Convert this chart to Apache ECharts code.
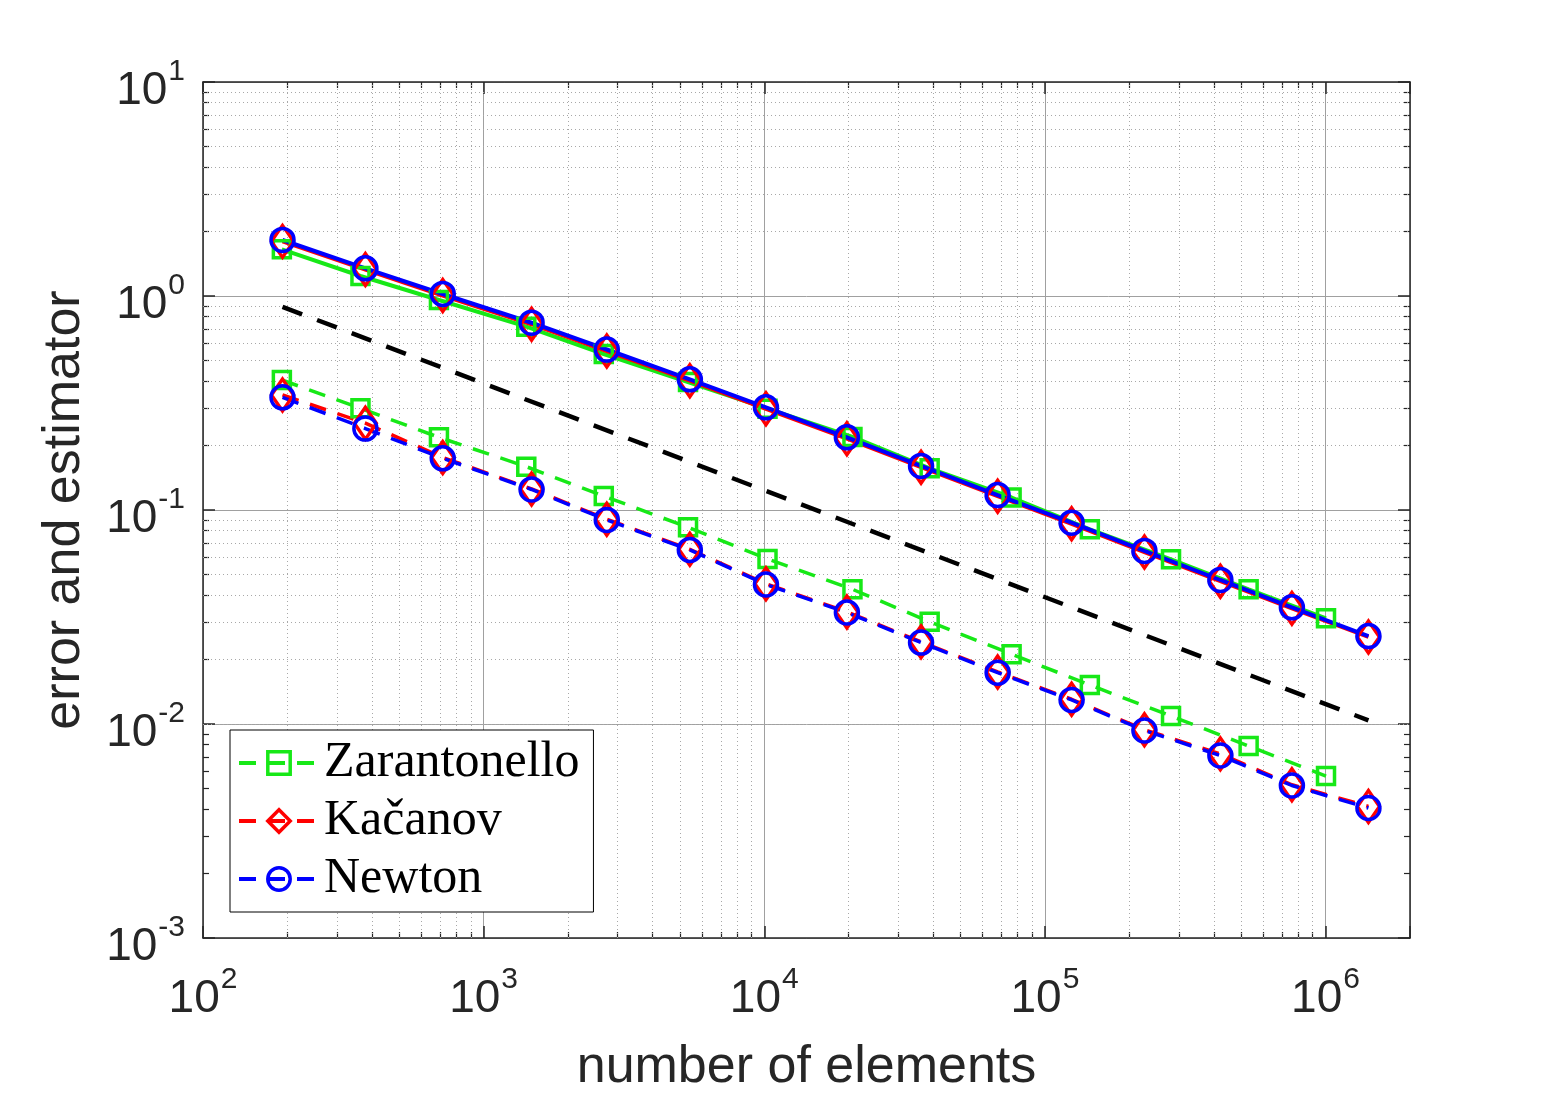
<!DOCTYPE html>
<html>
<head>
<meta charset="utf-8">
<title>error and estimator</title>
<script src="https://cdn.jsdelivr.net/npm/echarts@6/dist/echarts.min.js"></script>
<style>
	html, body { margin: 0; padding: 0; background: #fff; }
	#chart { width: 1560px; height: 1097px; }
</style>
</head>
<body>
<div id="chart"></div>
<script>
// number of elements
var nZar = [191, 364, 693, 1419, 2680, 5350, 10270, 20620, 38850, 76100, 144600, 281500, 532100, 1004000];
var nKac = [192, 379, 715, 1482, 2747, 5430, 10140, 19700, 36200, 67870, 124500, 226300, 422000, 758900, 1422000];
var nNew = [192, 379, 715, 1482, 2747, 5430, 10140, 19700, 36200, 67870, 124500, 226300, 422000, 758900, 1422000];

// estimator (solid) and error (dashed)
var zarEst = [1.652, 1.240, 0.958, 0.7186, 0.5358, 0.3960, 0.2974, 0.2194, 0.1566, 0.1144, 0.08124, 0.05884, 0.04260, 0.03118];
var zarErr = [0.405, 0.2987, 0.2186, 0.1594, 0.1162, 0.0830, 0.05902, 0.04260, 0.03006, 0.02120, 0.01521, 0.01090, 0.00789, 0.005714];
var kacEst = [1.80, 1.33, 1.005, 0.738, 0.553, 0.402, 0.297, 0.2155, 0.1585, 0.1160, 0.0862, 0.0636, 0.0465, 0.0347, 0.0255];
var kacErr = [0.345, 0.2545, 0.1760, 0.1255, 0.0905, 0.0655, 0.0452, 0.0334, 0.0242, 0.0175, 0.01305, 0.00940, 0.00725, 0.00520, 0.00412];
var newEst = [1.827, 1.347, 1.022, 0.750, 0.5623, 0.408, 0.3019, 0.2186, 0.1606, 0.1175, 0.08723, 0.06435, 0.04709, 0.03510, 0.02577];
var newErr = [0.3363, 0.2403, 0.1744, 0.1247, 0.08981, 0.06505, 0.04486, 0.03319, 0.02403, 0.01737, 0.01295, 0.009324, 0.007125, 0.005160, 0.004050];

// reference slope N^(-1/2)
var refN = [192, 1422000];
var refVal = [0.89, 0.0104];

// decades for the axes
var xDecades = [1e2, 1e3, 1e4, 1e5, 1e6];
var yDecades = [1e-3, 1e-2, 1e-1, 1e0];

var txtColor = '#262626';
var sansFont = 'Liberation Sans, Arial, sans-serif';
var serifFont = 'Liberation Serif, Times New Roman, serif';

function minorValues(decades) {
	var out = [];
	for (var i = 0; i < decades.length; i++) {
		for (var k = 2; k <= 9; k++) {
			out.push(+(k * decades[i]).toPrecision(6));
		}
	}
	return out;
}
var xMinor = minorValues(xDecades.slice(0, 4));
var yMinor = minorValues(yDecades);

function pairs(xs, ys) {
	var out = [];
	for (var i = 0; i < ys.length; i++) {
		out.push([xs[i], ys[i]]);
	}
	return out;
}

//10^n labels
function powLabel(v) {
	var lg = Math.log(v) / Math.LN10;
	var e = Math.round(lg);
	if (Math.abs(lg - e) > 1e-6) return '';
	return '{b|10}{s|' + e + '}';
}
var richLabel = {
	b: { fontSize: 46, lineHeight: 68, fontFamily: sansFont, color: txtColor },
	s: { fontSize: 30, lineHeight: 30, padding: [0, 0, 38, 1], fontFamily: sansFont, color: txtColor }
};

var axisLineStyle = { color: txtColor, width: 1.5 };

function frameAxis(kind, pos, extra) {
	var ax = {
		type: 'log',
		logBase: 10,
		position: pos,
		axisLine: { show: true, onZero: false, lineStyle: axisLineStyle },
		axisTick: { show: true, inside: true, length: 12, lineStyle: axisLineStyle },
		axisLabel: { show: false },
		splitLine: { show: false },
		minorTick: { show: false },
		minorSplitLine: { show: false }
	};
	if (kind == 'x') {
		ax.min = 100;
		ax.max = 2e6;
	} else {
		ax.min = 1e-3;
		ax.max = 10;
	}
	for (var k in extra) ax[k] = extra[k];
	return ax;
}

function minorAxis(kind, pos, vals) {
	return frameAxis(kind, pos, {
		axisLine: { show: false },
		axisTick: { show: true, inside: true, length: 6, customValues: vals, lineStyle: { color: txtColor, width: 1.2 } }
	});
}

var xAxes = [
	frameAxis('x', 'bottom', {
		axisLabel: { show: true, margin: 27, formatter: powLabel, rich: richLabel },
		splitLine: { show: true, lineStyle: { color: '#a0a0a0', width: 1 } },
		name: 'number of elements',
		nameLocation: 'middle',
		nameGap: 104,
		nameTextStyle: { fontFamily: sansFont, fontSize: 52, color: txtColor }
	}),
	frameAxis('x', 'top', {}),
	minorAxis('x', 'bottom', xMinor),
	minorAxis('x', 'top', xMinor)
];

var yAxes = [
	frameAxis('y', 'left', {
		axisLabel: { show: true, margin: 18, formatter: powLabel, rich: richLabel, padding: [18, 0, 0, 0] },
		splitLine: { show: true, lineStyle: { color: '#a0a0a0', width: 1 } },
		name: 'error and estimator',
		nameLocation: 'middle',
		nameRotate: 90,
		nameGap: 112,
		nameTextStyle: { fontFamily: sansFont, fontSize: 52, color: txtColor }
	}),
	frameAxis('y', 'right', {}),
	minorAxis('y', 'left', yMinor),
	minorAxis('y', 'right', yMinor)
];

function lineSeries(name, xs, ys, color, symbol, size, dashed) {
	return {
		type: 'line',
		name: name,
		data: pairs(xs, ys),
		symbol: symbol,
		symbolSize: size,
		showAllSymbol: true,
		silent: true,
		lineStyle: { color: color, width: dashed ? 3.5 : 4, type: dashed ? [17, 12] : 'solid' },
		itemStyle: { color: 'rgba(255,255,255,0)', borderColor: color, borderWidth: 3.5 },
		emphasis: { disabled: true }
	};
}

var green = '#17e817';
var red = '#ff0000';
var blue = '#0000ff';

// minor grid (dotted)
var minorGrid = [];
for (var i = 0; i < xMinor.length; i++) minorGrid.push({ xAxis: xMinor[i] });
for (var j = 0; j < yMinor.length; j++) minorGrid.push({ yAxis: yMinor[j] });

var refSeries = {
	type: 'line',
	name: 'ref',
	data: pairs(refN, refVal),
	symbol: 'none',
	silent: true,
	lineStyle: { color: '#000', width: 4.5, type: [21, 16] },
	markLine: {
		silent: true,
		z: 1,
		symbol: ['none', 'none'],
		label: { show: false },
		lineStyle: { color: '#a8a8a8', width: 1, type: [1, 3] },
		emphasis: { disabled: true },
		animation: false,
		data: minorGrid
	}
};

var option = {
	animation: false,
	backgroundColor: '#fff',
	grid: { left: 203, top: 82, width: 1207, height: 856, containLabel: false, outerBoundsMode: 'none' },
	xAxis: xAxes,
	yAxis: yAxes,
	legend: {
		data: ['Zarantonello', 'Kačanov', 'Newton'],
		orient: 'vertical',
		left: 230,
		top: 730,
		padding: [8, 14, 8, 7],
		itemWidth: 80,
		itemHeight: 28,
		itemGap: 8,
		backgroundColor: '#fff',
		borderColor: '#000',
		borderWidth: 1,
		borderRadius: 0,
		selectedMode: false,
		lineStyle: { width: 4 },
		itemStyle: { borderWidth: 3.5 },
		textStyle: { fontFamily: serifFont, fontSize: 50, color: '#000' }
	},
	series: [
		lineSeries('Zarantonello est', nZar, zarEst, green, 'rect', 17, false),
		lineSeries('Zarantonello', nZar, zarErr, green, 'rect', 17, true),
		lineSeries('Kačanov est', nKac, kacEst, red, 'diamond', [22, 32], false),
		lineSeries('Kačanov', nKac, kacErr, red, 'diamond', [22, 32], true),
		lineSeries('Newton est', nNew, newEst, blue, 'circle', 23, false),
		lineSeries('Newton', nNew, newErr, blue, 'circle', 23, true),
		refSeries
	]
};

echarts.init(document.getElementById('chart')).setOption(option);
</script>
</body>
</html>
